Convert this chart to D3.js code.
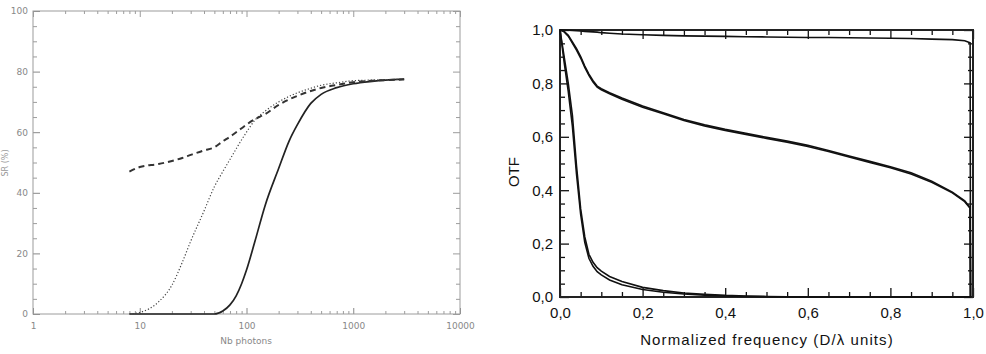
<!DOCTYPE html>
<html>
<head>
<meta charset="utf-8">
<script src="https://cdn.jsdelivr.net/npm/d3@7"></script>
<style>
  body { margin: 0; background: #fff; }
  svg { display: block; }
</style>
</head>
<body>
<svg id="chart" width="986" height="354"></svg>
<script>
// left panel: SR vs number of photons
var nbPhotons = [8, 10, 15, 20, 25, 30, 40, 50, 60, 70, 80, 90, 100, 120, 150, 200, 250, 300, 400, 500, 700, 1000, 1500, 2000, 3000];
var srSolid  = [0, 0, 0, 0, 0, 0, 0, 0, 1, 3, 6, 10, 14.5, 24, 36, 48, 57, 62.5, 69.5, 72.5, 74.7, 76, 76.8, 77.2, 77.5];
var srDotted = [0, 0.5, 4, 9.5, 17, 24, 34, 42, 47, 51, 54.5, 57.5, 60, 64, 67, 70, 71.8, 73, 74.5, 75.5, 76.3, 77, 77.2, 77.3, 77.5];
var srDashed = [47, 48.5, 49.5, 50.5, 51.5, 52.5, 54, 55, 57, 58.5, 60, 61.3, 62.5, 64.3, 66, 69, 70.8, 72, 73.6, 74.6, 75.6, 76.5, 77, 77.2, 77.4];
var leftXTicks = [1, 10, 100, 1000, 10000];
var leftYTicks = [0, 20, 40, 60, 80, 100];

// right panel: OTF vs normalized frequency
var freq = [0, 0.005, 0.01, 0.02, 0.03, 0.04, 0.05, 0.06, 0.07, 0.08, 0.09, 0.1, 0.12, 0.15, 0.2, 0.25, 0.3, 0.35, 0.4, 0.45, 0.5, 0.55, 0.6, 0.65, 0.7, 0.75, 0.8, 0.85, 0.9, 0.95, 0.98, 0.993, 0.994];
var otfHigh = [1, 1, 1, 0.999, 0.998, 0.997, 0.996, 0.995, 0.994, 0.993, 0.992, 0.99, 0.988, 0.985, 0.982, 0.98, 0.978, 0.977, 0.976, 0.975, 0.974, 0.973, 0.972, 0.972, 0.971, 0.97, 0.969, 0.968, 0.966, 0.964, 0.96, 0.952, 0];
var otfMidA = [1, 0.998, 0.995, 0.98, 0.955, 0.93, 0.9, 0.865, 0.835, 0.81, 0.79, 0.78, 0.765, 0.745, 0.715, 0.69, 0.665, 0.645, 0.628, 0.613, 0.598, 0.584, 0.568, 0.549, 0.528, 0.508, 0.488, 0.465, 0.434, 0.393, 0.36, 0.335, 0];
var otfMidB = [1, 0.997, 0.993, 0.977, 0.951, 0.925, 0.895, 0.86, 0.83, 0.805, 0.786, 0.776, 0.761, 0.741, 0.711, 0.686, 0.661, 0.641, 0.624, 0.609, 0.594, 0.58, 0.564, 0.545, 0.524, 0.504, 0.484, 0.461, 0.43, 0.39, 0.357, 0.332, 0];
var otfLowA = [1, 0.95, 0.9, 0.8, 0.68, 0.49, 0.33, 0.225, 0.16, 0.13, 0.11, 0.097, 0.077, 0.058, 0.036, 0.024, 0.015, 0.01, 0.006, 0.004, 0.002, 0.001, 0, 0, 0, 0, 0, 0, 0, 0, 0, 0, 0];
var otfLowB = [1, 0.94, 0.88, 0.77, 0.64, 0.46, 0.31, 0.205, 0.145, 0.115, 0.095, 0.083, 0.064, 0.046, 0.028, 0.018, 0.011, 0.007, 0.004, 0.002, 0.001, 0, 0, 0, 0, 0, 0, 0, 0, 0, 0, 0, 0];
var rightTicks = [0, 0.2, 0.4, 0.6, 0.8, 1.0];

var svg = d3.select("#chart");

// ---------- left panel ----------
var lx = d3.scaleLog().domain([1, 10000]).range([33, 460]);
var ly = d3.scaleLinear().domain([0, 100]).range([314, 11]);
var grey = "#9c9c9c";

var left = svg.append("g").attr("class", "left");

// minor ticks for log axis
var logMinor = [];
[1, 10, 100, 1000].forEach(function(d) {
    for (var k = 2; k <= 9; k++) logMinor.push(d * k);
});
var yMinor = d3.range(0, 101, 5).filter(function(d) { return d % 20 != 0; });

function styleAxis(g, col, fs) {
    g.select(".domain").remove();
    g.selectAll("line").attr("stroke", col);
    g.selectAll("text").attr("fill", col).attr("font-size", fs)
        .attr("font-family", "DejaVu Sans, sans-serif");
}

left.append("g").attr("transform", "translate(0,314)")
    .call(d3.axisBottom(lx).tickValues(leftXTicks).tickFormat(d3.format("d")).tickSize(-6).tickPadding(9))
    .call(styleAxis, "#888", 9);
left.append("g").attr("transform", "translate(0,314)")
    .call(d3.axisBottom(lx).tickValues(logMinor).tickFormat("").tickSize(-3))
    .call(styleAxis, grey, 9);
left.append("g").attr("transform", "translate(0,11)")
    .call(d3.axisTop(lx).tickValues(leftXTicks).tickFormat("").tickSize(-6))
    .call(styleAxis, grey, 9);
left.append("g").attr("transform", "translate(0,11)")
    .call(d3.axisTop(lx).tickValues(logMinor).tickFormat("").tickSize(-3))
    .call(styleAxis, grey, 9);
left.append("g").attr("transform", "translate(33,0)")
    .call(d3.axisLeft(ly).tickValues(leftYTicks).tickSize(-7).tickPadding(5))
    .call(styleAxis, "#888", 9);
left.append("g").attr("transform", "translate(33,0)")
    .call(d3.axisLeft(ly).tickValues(yMinor).tickFormat("").tickSize(-4))
    .call(styleAxis, grey, 9);
left.append("g").attr("transform", "translate(460,0)")
    .call(d3.axisRight(ly).tickValues(leftYTicks).tickFormat("").tickSize(-7))
    .call(styleAxis, grey, 9);
left.append("g").attr("transform", "translate(460,0)")
    .call(d3.axisRight(ly).tickValues(yMinor).tickFormat("").tickSize(-4))
    .call(styleAxis, grey, 9);

left.append("rect")
    .attr("x", lx(1)).attr("y", ly(100))
    .attr("width", lx(10000) - lx(1)).attr("height", ly(0) - ly(100))
    .attr("fill", "none").attr("stroke", grey).attr("stroke-width", 1);

left.append("text")
    .attr("x", 246).attr("y", 344)
    .attr("text-anchor", "middle")
    .attr("font-size", 9).attr("fill", "#888")
    .attr("font-family", "DejaVu Sans, sans-serif")
    .text("Nb photons");
left.append("text")
    .attr("transform", "translate(8,163) rotate(-90)")
    .attr("text-anchor", "middle")
    .attr("font-size", 8).attr("fill", "#999")
    .attr("font-family", "DejaVu Sans, sans-serif")
    .text("SR (%)");

var lline = function(ys) {
    return d3.line()
        .x(function(d, i) { return lx(nbPhotons[i]); })
        .y(function(d) { return ly(d); })
        .curve(d3.curveMonotoneX)(ys);
};
left.append("path").attr("d", lline(srSolid))
    .attr("fill", "none").attr("stroke", "#222").attr("stroke-width", 1.7);
left.append("path").attr("d", lline(srDotted))
    .attr("fill", "none").attr("stroke", "#444").attr("stroke-width", 1.2)
    .attr("stroke-dasharray", "1.2,2");
left.append("path").attr("d", lline(srDashed))
    .attr("fill", "none").attr("stroke", "#333").attr("stroke-width", 2)
    .attr("stroke-dasharray", "6,4");

// ---------- right panel ----------
var rx = d3.scaleLinear().domain([0, 1]).range([560, 973]);
var ry = d3.scaleLinear().domain([0, 1]).range([297, 30]);
var right = svg.append("g").attr("class", "right");
var fmt = function(d) { return d3.format(".1f")(d).replace(".", ","); };
var rMinor = d3.range(0, 1.001, 0.05).filter(function(d) { return Math.round(d * 100) % 20 != 0; });
var rfont = "Liberation Sans, Arial, sans-serif";

function styleR(g) {
    g.select(".domain").remove();
    g.selectAll("line").attr("stroke", "#111").attr("stroke-width", 1.3);
    g.selectAll("text").attr("fill", "#111").attr("font-size", 15)
        .attr("font-family", rfont);
}

right.append("g").attr("transform", "translate(0,297)")
    .call(d3.axisBottom(rx).tickValues(rightTicks).tickFormat(fmt).tickSize(-9).tickPadding(10))
    .call(styleR);
right.append("g").attr("transform", "translate(0,297)")
    .call(d3.axisBottom(rx).tickValues(rMinor).tickFormat("").tickSize(-5))
    .call(styleR);
right.append("g").attr("transform", "translate(0,30)")
    .call(d3.axisTop(rx).tickValues(rightTicks).tickFormat("").tickSize(-9))
    .call(styleR);
right.append("g").attr("transform", "translate(0,30)")
    .call(d3.axisTop(rx).tickValues(rMinor).tickFormat("").tickSize(-5))
    .call(styleR);
right.append("g").attr("transform", "translate(560,0)")
    .call(d3.axisLeft(ry).tickValues(rightTicks).tickFormat(fmt).tickSize(-9).tickPadding(7))
    .call(styleR);
right.append("g").attr("transform", "translate(560,0)")
    .call(d3.axisLeft(ry).tickValues(rMinor).tickFormat("").tickSize(-5))
    .call(styleR);
right.append("g").attr("transform", "translate(973,0)")
    .call(d3.axisRight(ry).tickValues(rightTicks).tickFormat("").tickSize(-9))
    .call(styleR);
right.append("g").attr("transform", "translate(973,0)")
    .call(d3.axisRight(ry).tickValues(rMinor).tickFormat("").tickSize(-5))
    .call(styleR);

right.append("rect")
    .attr("x", rx(0)).attr("y", ry(1))
    .attr("width", rx(1) - rx(0)).attr("height", ry(0) - ry(1))
    .attr("fill", "none").attr("stroke", "#222").attr("stroke-width", 2);

right.append("text")
    .attr("x", 767).attr("y", 345)
    .attr("text-anchor", "middle")
    .attr("font-size", 15).attr("fill", "#111")
    .attr("letter-spacing", 1.1)
    .attr("font-family", rfont)
    .text("Normalized frequency (D/\u03bb units)");
right.append("text")
    .attr("transform", "translate(519,172) rotate(-90)")
    .attr("text-anchor", "middle")
    .attr("font-size", 15).attr("fill", "#111")
    .attr("font-family", rfont)
    .text("OTF");

var rline = function(ys) {
    return d3.line()
        .x(function(d, i) { return rx(freq[i]); })
        .y(function(d) { return ry(d); })(ys);
};
[otfHigh, otfMidA, otfMidB, otfLowA, otfLowB].forEach(function(s) {
    right.append("path").attr("d", rline(s))
        .attr("fill", "none").attr("stroke", "#111").attr("stroke-width", 1.6);
});
</script>
</body>
</html>
